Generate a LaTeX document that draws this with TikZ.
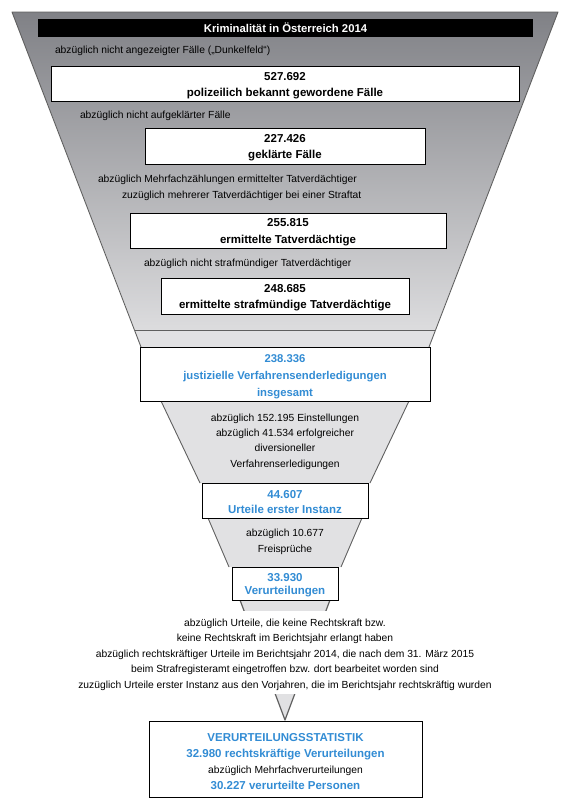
\documentclass[tikz,border=0pt]{standalone}
\usepackage{fontspec}
\setmainfont{Liberation Sans}
\definecolor{fgtop}{RGB}{128,129,134}
\definecolor{fgbot}{RGB}{220,220,222}
\definecolor{lightfill}{RGB}{225,225,227}
\definecolor{edgegray}{RGB}{95,95,95}
\definecolor{blu}{RGB}{50,140,212}
\begin{document}
\begin{tikzpicture}[x=1pt,y=-1pt,
  every node/.style={inner sep=0pt, outer sep=0pt},
  edge/.style={draw=edgegray, line width=0.9pt, line join=round},
  funnel/.style={fill=lightfill},
  box/.style={draw=black, line width=0.9pt, fill=white, anchor=north west},
  btext/.style={align=center, font=\fontsize{11.5}{16}\selectfont\bfseries},
  lbl/.style={font=\fontsize{10.3}{12}\selectfont, anchor=base west},
  clbl/.style={font=\fontsize{10.3}{15.5}\selectfont, align=center},
]
\useasboundingbox (0,0) rectangle (580,807);
% --- upper funnel with gradient ---
\shade[top color=fgtop, bottom color=fgbot] (12,12) -- (558,12) -- (435,330) -- (135,330) -- cycle;
\fill[lightfill] (135,330) -- (435,330) -- (429,347) -- (141,347) -- cycle;
\draw[edge] (141,347) -- (12,12) -- (558,12) -- (429,347);
\draw[edge] (135,330) -- (435,330);
% --- lower funnels ---
\fill[funnel] (161,401) -- (409,401) -- (370,483) -- (200,483) -- cycle;
\draw[edge] (161,401) -- (200,483) (409,401) -- (370,483);
\fill[funnel] (208,518) -- (362,518) -- (341,567) -- (229,567) -- cycle;
\draw[edge] (208,518) -- (229,567) (362,518) -- (341,567);
\fill[funnel] (240,600) -- (330,600) -- (285,720) -- cycle;
\draw[edge, line width=1.2pt] (240,600) -- (285,720) -- (330,600);
\fill[white] (200,611) rectangle (370,694);
% --- title bar ---
\node[fill=black, minimum width=495pt, minimum height=18pt, anchor=north west,
      text=white, font=\fontsize{11.3}{13}\selectfont\bfseries] (title) at (38,19) {Kriminalität in Österreich 2014};
% --- boxes ---
\node[box, minimum width=468pt, minimum height=35pt] (b1) at (51,66) {};
\node[btext] (b1t) at ([yshift=-1.8pt]b1.center) {527.692\\polizeilich bekannt gewordene Fälle};
\node[box, minimum width=280pt, minimum height=36pt] (b2) at (145,128) {};
\node[btext, font=\fontsize{11.5}{15.5}\selectfont\bfseries] (b2t) at ([yshift=-1.8pt]b2.center) {227.426\\geklärte Fälle};
\node[box, minimum width=316pt, minimum height=35pt] (b3) at (130,213) {};
\node[btext, font=\fontsize{11.5}{16.5}\selectfont\bfseries] (b3t) at ([yshift=-1.8pt]b3.center) {255.815\\ermittelte Tatverdächtige};
\node[box, minimum width=248pt, minimum height=36pt] (b4) at (161,278) {};
\node[btext, font=\fontsize{11.5}{15.5}\selectfont\bfseries] (b4t) at ([yshift=-1.8pt]b4.center) {248.685\\ermittelte strafmündige Tatverdächtige};
\node[box, minimum width=290pt, minimum height=54pt] (b5) at (140,347) {};
\node[btext, text=blu, font=\fontsize{11.3}{17}\selectfont\bfseries] (b5t) at ([yshift=-2.3pt]b5.center)
  {238.336\\justizielle Verfahrensenderledigungen\\insgesamt};
\node[box, minimum width=166pt, minimum height=35pt] (b6) at (202,483) {};
\node[btext, text=blu, font=\fontsize{11.5}{15}\selectfont\bfseries] (b6t) at ([yshift=-1.8pt]b6.center) {44.607\\Urteile erster Instanz};
\node[box, minimum width=106pt, minimum height=33pt] (b7) at (232,567) {};
\node[btext, text=blu, font=\fontsize{11.5}{13.5}\selectfont\bfseries] (b7t) at ([yshift=-1.8pt]b7.center) {33.930\\Verurteilungen};
\node[box, minimum width=273pt, minimum height=76pt] (b8) at (149,721) {};
\node[btext, font=\fontsize{11.5}{16}\selectfont] (b8t) at ([yshift=-2.5pt]b8.center)
  {\textcolor{blu}{\bfseries VERURTEILUNGSSTATISTIK}\\
   \textcolor{blu}{\bfseries 32.980 rechtskräftige Verurteilungen}\\
   {\fontsize{10.3}{15}\selectfont abzüglich Mehrfachverurteilungen}\\
   \textcolor{blu}{\bfseries 30.227 verurteilte Personen}};
% --- labels ---
\node[lbl] (l1) at (55,53.7) {abzüglich nicht angezeigter Fälle („Dunkelfeld“)};
\node[lbl] (l2) at (80,118.7) {abzüglich nicht aufgeklärter Fälle};
\node[lbl] (l3) at (98,182.7) {abzüglich Mehrfachzählungen ermittelter Tatverdächtiger};
\node[lbl] (l4) at (122,198.7) {zuzüglich mehrerer Tatverdächtiger bei einer Straftat};
\node[lbl] (l5) at (144,266.7) {abzüglich nicht strafmündiger Tatverdächtiger};
\node[clbl, font=\fontsize{10.3}{15.3}\selectfont] (l6) at (285,441.5)
  {abzüglich 152.195 Einstellungen\\abzüglich 41.534 erfolgreicher\\diversioneller\\Verfahrenserledigungen};
\node[clbl, font=\fontsize{10.3}{16}\selectfont] (l7) at (285,541.5)
  {abzüglich 10.677\\Freisprüche};
\node[clbl, font=\fontsize{10.3}{15.5}\selectfont] (l8) at (285,654.5)
  {abzüglich Urteile, die keine Rechtskraft bzw.\\
   keine Rechtskraft im Berichtsjahr erlangt haben\\
   abzüglich rechtskräftiger Urteile im Berichtsjahr 2014, die nach dem 31. März 2015\\
   beim Strafregisteramt eingetroffen bzw. dort bearbeitet worden sind\\
   zuzüglich Urteile erster Instanz aus den Vorjahren, die im Berichtsjahr rechtskräftig wurden};
\end{tikzpicture}
\end{document}
